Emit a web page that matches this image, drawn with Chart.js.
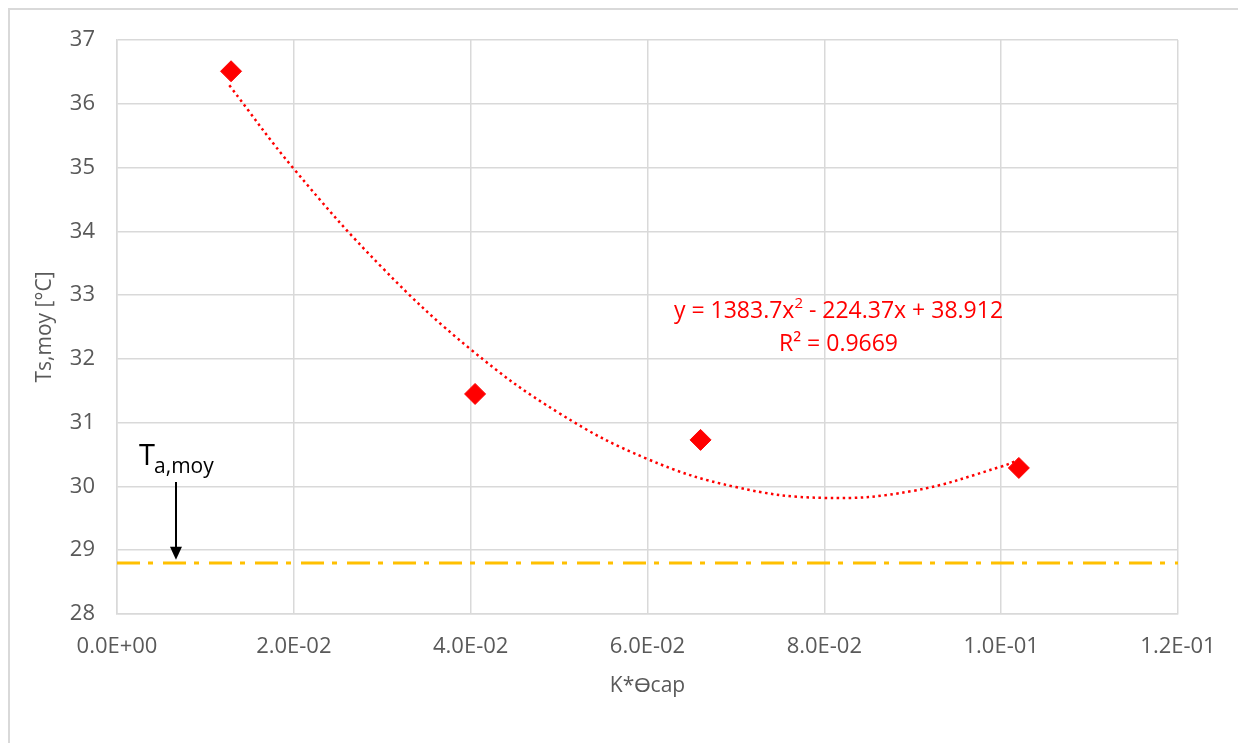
<!DOCTYPE html>
<html>
<head>
<meta charset="utf-8">
<script src="https://cdn.jsdelivr.net/npm/chart.js@4/dist/chart.umd.min.js"></script>
<style>
  html, body { margin: 0; padding: 0; background: #fff; }
  #wrap { position: relative; width: 1238px; height: 743px; }
</style>
</head>
<body>
<div id="wrap"><canvas id="chart"></canvas></div>
<script>
// Measured points
const kTheta = [0.0129, 0.0405, 0.0660, 0.1020];
const tsMoy = [36.51, 31.45, 30.73, 30.29];

// Polynomial trend line
const trendX = [0.0127, 0.02, 0.03, 0.04, 0.05, 0.06, 0.07, 0.08, 0.09, 0.10, 0.102];
const trendY = [36.29, 34.98, 33.43, 32.15, 31.15, 30.43, 29.99, 29.82, 29.93, 30.31, 30.42];

// Mean ambient temperature
const taMoy = 28.8;

// Axis ticks
const xTicks = [0, 0.02, 0.04, 0.06, 0.08, 0.10, 0.12];
const yTicks = [28, 29, 30, 31, 32, 33, 34, 35, 36, 37];

const FONT = "'Open Sans', sans-serif";
const GREY = '#595959';

function sci(v) {
    if (v === 0) return '0.0E+00';
    const e = Math.floor(Math.log10(Math.abs(v)) + 1e-9);
    const m = v / Math.pow(10, e);
    const sign = e < 0 ? '-' : '+';
    return m.toFixed(1) + 'E' + sign + String(Math.abs(e)).padStart(2, '0');
}

// Outer frame, equation label and T_a,moy arrow
const extras = {
    id: 'extras',
    beforeDraw(chart) {
        const c = chart.ctx;
        c.save();
        c.strokeStyle = '#d9d9d9';
        c.lineWidth = 2;
        c.beginPath();
        c.moveTo(9, 743);
        c.lineTo(9, 9);
        c.lineTo(1238, 9);
        c.stroke();
        c.restore();
    },
    afterDatasetsDraw(chart) {
        const c = chart.ctx;
        const xs = chart.scales.x, ys = chart.scales.y;
        c.save();

        // equation
        c.fillStyle = '#ff0000';
        c.textBaseline = 'middle';
        const cx = xs.getPixelForValue(0.0816);
        const cy = ys.getPixelForValue(32.74);
        const big = '23px ' + FONT, small = '15px ' + FONT;
        const parts = [['y = 1383.7x', big, 0], ['2', small, -8], [' - 224.37x + 38.912', big, 0]];
        let w = 0;
        parts.forEach(p => { c.font = p[1]; w += c.measureText(p[0]).width; });
        let px = cx - w / 2;
        c.textAlign = 'left';
        parts.forEach(p => {
            c.font = p[1];
            c.fillText(p[0], px, cy + p[2]);
            px += c.measureText(p[0]).width;
        });
        c.font = big;
        c.textAlign = 'center';
        c.fillText('R² = 0.9669', cx, cy + 33);

        // T a,moy label
        c.fillStyle = '#000';
        c.textAlign = 'left';
        c.textBaseline = 'alphabetic';
        const tx = xs.getPixelForValue(0.0025);
        const ty = ys.getPixelForValue(30.34);
        c.font = '29px ' + FONT;
        c.fillText('T', tx, ty);
        const tw = c.measureText('T').width;
        c.font = '21px ' + FONT;
        c.fillText('a,moy', tx + tw - 1, ty + 8);

        // arrow
        const ax = xs.getPixelForValue(0.00667);
        const a0 = ys.getPixelForValue(30.07);
        const a1 = ys.getPixelForValue(28.85);
        c.strokeStyle = '#000';
        c.lineWidth = 2;
        c.beginPath();
        c.moveTo(ax, a0);
        c.lineTo(ax, a1 - 10);
        c.stroke();
        c.beginPath();
        c.moveTo(ax, a1);
        c.lineTo(ax - 6, a1 - 13);
        c.lineTo(ax + 6, a1 - 13);
        c.closePath();
        c.fill();
        c.restore();
    }
};

new Chart(document.getElementById('chart'), {
    type: 'scatter',
    data: {
        datasets: [
            {
                label: 'Ts,moy',
                data: kTheta.map((x, i) => ({ x: x, y: tsMoy[i] })),
                pointStyle: 'rectRot',
                pointRadius: 10.5,
                pointHoverRadius: 10.5,
                backgroundColor: '#ff0000',
                borderColor: '#ff0000',
                borderWidth: 1,
                order: 0
            },
            {
                label: 'Trend',
                type: 'line',
                data: trendX.map((x, i) => ({ x: x, y: trendY[i] })),
                borderColor: '#ff0000',
                borderWidth: 2.5,
                borderDash: [2.5, 3.5],
                pointRadius: 0,
                tension: 0.4,
                fill: false,
                order: 1
            },
            {
                label: 'Ta,moy',
                type: 'line',
                data: [{ x: xTicks[0], y: taMoy }, { x: xTicks[xTicks.length - 1], y: taMoy }],
                borderColor: '#ffc000',
                borderWidth: 3,
                borderDash: [23, 8, 5, 10],
                pointRadius: 0,
                fill: false,
                order: 2
            }
        ]
    },
    options: {
        responsive: true,
        maintainAspectRatio: false,
        animation: false,
        layout: { padding: { left: 30, top: 40, right: 60, bottom: 42 } },
        plugins: {
            legend: { display: false },
            tooltip: { enabled: false }
        },
        scales: {
            x: {
                type: 'linear',
                min: 0,
                max: 0.12,
                afterBuildTicks: s => { s.ticks = xTicks.map(v => ({ value: v })); },
                afterFit: s => { s.height = 87; },
                grid: { color: '#d9d9d9', lineWidth: 1.5, drawTicks: false },
                border: { color: '#d9d9d9', width: 1.5 },
                ticks: {
                    padding: 20,
                    color: GREY,
                    font: { family: FONT, size: 22 },
                    maxRotation: 0,
                    callback: v => sci(v)
                },
                title: {
                    display: true,
                    text: 'K*ϴcap',
                    color: GREY,
                    font: { family: FONT, size: 21 },
                    padding: { top: 2, bottom: 2 }
                }
            },
            y: {
                min: 28,
                max: 37,
                afterBuildTicks: s => { s.ticks = yTicks.map(v => ({ value: v })); },
                afterFit: s => { s.width = 87; },
                grid: { color: '#d9d9d9', lineWidth: 1.5, drawTicks: false },
                border: { color: '#d9d9d9', width: 1.5 },
                ticks: {
                    padding: 22,
                    color: GREY,
                    font: { family: FONT, size: 22 }
                },
                title: {
                    display: true,
                    text: 'Ts,moy [°C]',
                    color: GREY,
                    font: { family: FONT, size: 21 },
                    padding: { top: 2, bottom: 0 }
                }
            }
        }
    },
    plugins: [extras]
});
</script>
</body>
</html>
